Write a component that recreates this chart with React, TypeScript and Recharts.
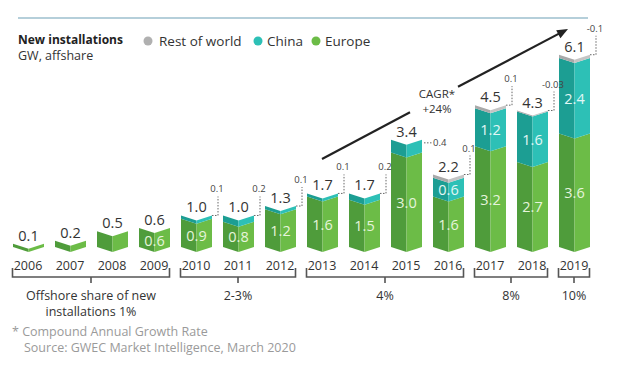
import React from 'react';
import { BarChart, Bar, XAxis, YAxis, LabelList } from 'recharts';

// data
const years = ['2006', '2007', '2008', '2009', '2010', '2011', '2012', '2013', '2014', '2015', '2016', '2017', '2018', '2019'];
const europe = [0.1, 0.2, 0.5, 0.6, 0.9, 0.8, 1.2, 1.6, 1.5, 3.0, 1.6, 3.2, 2.7, 3.6];
const china = [0, 0, 0, 0, 0.1, 0.2, 0.1, 0.1, 0.2, 0.4, 0.6, 1.2, 1.6, 2.4];
const restOfWorld = [0, 0, 0, 0, 0, 0, 0, 0, 0, 0, 0.1, 0.1, 0.03, 0.1];
const totalLabels = ['0.1', '0.2', '0.5', '0.6', '1.0', '1.0', '1.3', '1.7', '1.7', '3.4', '2.2', '4.5', '4.3', '6.1'];
const sideLabels = ['', '', '', '', '0.1', '0.2', '0.1', '0.1', '0.2', '0.4', '0.1', '0.1', '-0.03', '-0.1'];
const flatLeaderYears = ['2015'];

const shareGroups = [
  { from: 0, to: 3, label: ['Offshore share of new', 'installations 1%'] },
  { from: 4, to: 6, label: ['2-3%'] },
  { from: 7, to: 10, label: ['4%'] },
  { from: 11, to: 12, label: ['8%'] },
  { from: 13, to: 13, label: ['10%'] },
];

const data = years.map((year, i) => ({
  year,
  europe: europe[i],
  china: china[i],
  rest: restOfWorld[i],
}));

// layout
const W = 640;
const H = 367;
const M = { top: 50, right: 45, bottom: 90, left: 7 };
const AXIS_H = 30;
const BAR = 31;
const DIP = 5;
const band = (W - M.left - M.right) / years.length;

const GREEN_DARK = '#4f9c3b';
const GREEN_LIGHT = '#6cbc47';
const TEAL_DARK = '#1c9e93';
const TEAL_LIGHT = '#2dc0b6';
const GREY_DARK = '#a9a9a9';
const GREY_LIGHT = '#c4c4c4';
const TEXT = '#333';

// bar drawn as an open "folded" sheet: dark left half, light right half, V-shaped edges
const FoldedBar = (props: any) => {
  const { x, y, width, height, dark, light } = props;
  if (!height || height <= 0) return null;
  const cx = x + width / 2;
  const left = `${x},${y} ${cx},${y + DIP} ${cx},${y + height + DIP} ${x},${y + height}`;
  const right = `${cx},${y + DIP} ${x + width},${y} ${x + width},${y + height} ${cx},${y + height + DIP}`;
  return (
    <g>
      <polygon points={left} fill={dark} />
      <polygon points={right} fill={light} />
    </g>
  );
};

const InnerLabel = (color: string) => (props: any) => {
  const { x, y, width, height, value } = props;
  if (!value || value < 0.6) return null;
  return (
    <text x={x + width / 2} y={y + height / 2 + 8} textAnchor="middle" fontSize={14.5} fill={color}>
      {Number(value).toFixed(1)}
    </text>
  );
};

const TopLabel = (props: any) => {
  const { x, y, width, index } = props;
  const total = totalLabels[index];
  const side = sideLabels[index];
  const rx = x + width;
  const flat = flatLeaderYears.includes(years[index]);
  return (
    <g>
      <text x={x + width / 2} y={y - 3} textAnchor="middle" fontSize={14.5} fill={TEXT}>
        {total}
      </text>
      {side && !flat && (
        <g>
          <path
            d={`M${rx} ${y} H${rx + 6} V${y - 19}`}
            fill="none"
            stroke="#666"
            strokeWidth={1}
            strokeDasharray="1.5 1.5"
          />
          <text x={rx + 5} y={y - 23} textAnchor="middle" fontSize={9.5} fill="#444">
            {side}
          </text>
        </g>
      )}
      {side && flat && (
        <g>
          <path d={`M${rx + 2} ${y + 3} H${rx + 10}`} stroke="#666" strokeWidth={1} strokeDasharray="1.5 1.5" />
          <text x={rx + 11} y={y + 6} fontSize={9.5} fill="#444">
            {side}
          </text>
        </g>
      )}
    </g>
  );
};

const YearTick = (props: any) => {
  const { x, payload, index } = props;
  const baseY = H - M.bottom - AXIS_H;
  const group = shareGroups.find((g) => g.from === index);
  let bracket = null;
  if (group) {
    const x1 = x - BAR / 2;
    const x2 = x + (group.to - group.from) * band + BAR / 2;
    const mid = (x1 + x2) / 2;
    const top = baseY + 21;
    const bot = baseY + 30;
    bracket = (
      <g>
        <path
          d={`M${x1} ${top} V${bot} H${x2} V${top} M${mid} ${bot} V${bot + 6}`}
          fill="none"
          stroke="#555"
          strokeWidth={1.6}
        />
        {group.label.map((line, i) => (
          <text key={line} x={mid} y={baseY + 53 + i * 16} textAnchor="middle" fontSize={12.5} fill={TEXT}>
            {line}
          </text>
        ))}
      </g>
    );
  }
  return (
    <g>
      <text x={x} y={baseY + 23} textAnchor="middle" fontSize={12.5} fill={TEXT}>
        {payload.value}
      </text>
      {bracket}
    </g>
  );
};

const Overlay = () => (
  <svg width={W} height={H} style={{ position: 'absolute', left: 0, top: 0, pointerEvents: 'none' }}>
    <line x1={18} y1={18} x2={588} y2={18} stroke="#6d9fb6" strokeWidth={1.2} />
    <text x={18} y={44} fontSize={12} fontWeight="bold" fill="#222">New installations</text>
    <text x={18} y={60} fontSize={12.5} fill={TEXT}>GW, affshare</text>
    <circle cx={148} cy={41} r={4.5} fill="#b0b0b0" />
    <text x={159} y={46} fontSize={13.5} fill={TEXT}>Rest of world</text>
    <circle cx={258} cy={41} r={4.5} fill={TEAL_LIGHT} />
    <text x={267} y={46} fontSize={13.5} fill={TEXT}>China</text>
    <circle cx={316} cy={41} r={4.5} fill={GREEN_LIGHT} />
    <text x={325} y={46} fontSize={13.5} fill={TEXT}>Europe</text>

    <line x1={322} y1={159} x2={410} y2={112.3} stroke="#222" strokeWidth={2.2} />
    <line x1={458} y1={86.8} x2={559} y2={33.6} stroke="#222" strokeWidth={2.2} />
    <polygon points="568,29 556.2,30.2 560.4,38.2" fill="#222" />
    <text x={437} y={98} textAnchor="middle" fontSize={11.5} fill={TEXT}>CAGR*</text>
    <text x={437} y={113} textAnchor="middle" fontSize={11.5} fill={TEXT}>+24%</text>

    <text x={12} y={336} fontSize={12.5} fill="#9a9a9a">* Compound Annual Growth Rate</text>
    <text x={24} y={352} fontSize={12.5} fill="#9a9a9a">Source: GWEC Market Intelligence, March 2020</text>
  </svg>
);

export default function App() {
  return (
    <div
      style={{
        position: 'absolute',
        left: 0,
        top: 0,
        width: W,
        height: H,
        background: '#fff',
        fontFamily: "'Open Sans', sans-serif",
      }}
    >
      <BarChart width={W} height={H} data={data} margin={M} barSize={BAR}>
        <XAxis
          dataKey="year"
          height={AXIS_H}
          axisLine={false}
          tickLine={false}
          interval={0}
          tick={(p: any) => <YearTick {...p} />}
        />
        <YAxis hide domain={[0, 6.25]} />
        <Bar
          dataKey="europe"
          stackId="a"
          isAnimationActive={false}
          shape={(p: any) => <FoldedBar {...p} dark={GREEN_DARK} light={GREEN_LIGHT} />}
        >
          <LabelList dataKey="europe" content={InnerLabel('#e6f4dc')} />
        </Bar>
        <Bar
          dataKey="china"
          stackId="a"
          isAnimationActive={false}
          shape={(p: any) => <FoldedBar {...p} dark={TEAL_DARK} light={TEAL_LIGHT} />}
        >
          <LabelList dataKey="china" content={InnerLabel('#e2f7f5')} />
        </Bar>
        <Bar
          dataKey="rest"
          stackId="a"
          isAnimationActive={false}
          shape={(p: any) => <FoldedBar {...p} dark={GREY_DARK} light={GREY_LIGHT} />}
        >
          <LabelList dataKey="rest" content={TopLabel} />
        </Bar>
      </BarChart>
      <Overlay />
    </div>
  );
}
